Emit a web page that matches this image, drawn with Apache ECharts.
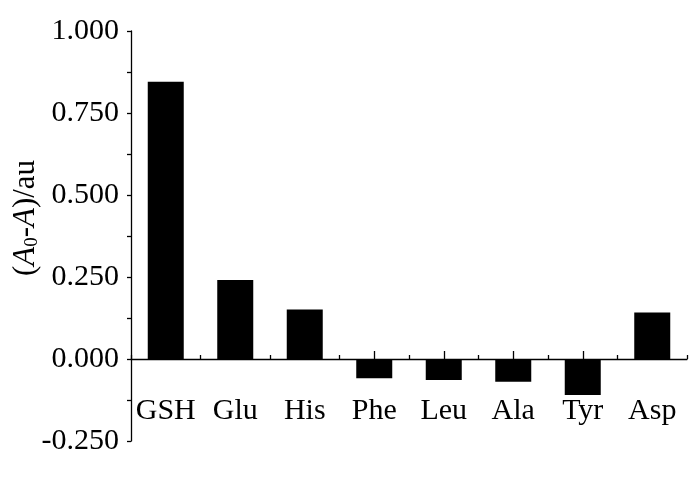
<!DOCTYPE html>
<html>
<head>
<meta charset="utf-8">
<style>
  html, body { margin: 0; padding: 0; background: #fff; }
  #chart { width: 700px; height: 478px; }
</style>
<script src="https://cdn.jsdelivr.net/npm/echarts@6/dist/echarts.min.js"></script>
</head>
<body>
<div id="chart"></div>
<script>
// ============ 数据 ============
const categories = ['GSH', 'Glu', 'His', 'Phe', 'Leu', 'Ala', 'Tyr', 'Asp']
const values = [0.845, 0.241, 0.151, -0.059, -0.064, -0.069, -0.110, 0.142]
const yTicks = { min: -0.25, max: 1.0, step: 0.25 }

const FONT = '"Liberation Serif", "Times New Roman", serif'
const BLACK_LINE = { color: '#000', width: 1.3 }
const GRID_BOX = { left: 131, right: 13, top: 31, bottom: 37, outerBoundsMode: 'none' }

const chart = echarts.init(document.getElementById('chart'))

chart.setOption({
  animation: false,
  // 第二个网格与第一个重合，只用来画类目中心的长刻度
  grid: [GRID_BOX, GRID_BOX],
  xAxis: [
    {
      type: 'category',
      gridIndex: 0,
      data: categories,
      axisLine: { show: true, onZero: true, lineStyle: BLACK_LINE },
      axisTick: { show: true, inside: true, length: 4, lineStyle: BLACK_LINE },
      // 标签留在网格底边，用负的 margin 移到零线下方
      axisLabel: { color: '#000', fontFamily: FONT, fontSize: 30, margin: -45, interval: 0 },
      splitLine: { show: false }
    },
    {
      type: 'category',
      gridIndex: 1,
      data: categories,
      axisLine: { show: false, onZero: true },
      axisTick: { show: true, inside: true, alignWithLabel: true, length: 8, lineStyle: BLACK_LINE },
      axisLabel: { show: false },
      splitLine: { show: false }
    }
  ],
  yAxis: [
    {
      type: 'value',
      gridIndex: 0,
      min: yTicks.min,
      max: yTicks.max,
      interval: yTicks.step,
      name: '({i|A}{sub|0}-{i|A})/au',
      nameLocation: 'middle',
      nameGap: 89,
      nameMoveOverlap: false,
      nameTextStyle: {
        color: '#000',
        fontFamily: FONT,
        fontSize: 31,
        padding: [0, 0, 0, 36],
        rich: {
          i: { fontFamily: FONT, fontSize: 31, fontStyle: 'italic', color: '#000' },
          sub: { fontFamily: FONT, fontSize: 19, color: '#000', verticalAlign: 'bottom', padding: [14, 0, 0, 0] }
        }
      },
      axisLine: { show: true, lineStyle: BLACK_LINE },
      axisTick: { show: true, inside: false, length: 4, lineStyle: BLACK_LINE },
      minorTick: { show: true, splitNumber: 2, length: 4, lineStyle: BLACK_LINE },
      axisLabel: {
        color: '#000',
        fontFamily: FONT,
        fontSize: 30,
        margin: 12,
        formatter: v => v.toFixed(3)
      },
      splitLine: { show: false }
    },
    {
      type: 'value',
      gridIndex: 1,
      min: yTicks.min,
      max: yTicks.max,
      interval: yTicks.step,
      axisLine: { show: false },
      axisTick: { show: false },
      axisLabel: { show: false },
      splitLine: { show: false }
    }
  ],
  series: [
    {
      type: 'bar',
      xAxisIndex: 0,
      yAxisIndex: 0,
      data: values,
      barWidth: 36,
      itemStyle: { color: '#000' }
    }
  ]
})
</script>
</body>
</html>
